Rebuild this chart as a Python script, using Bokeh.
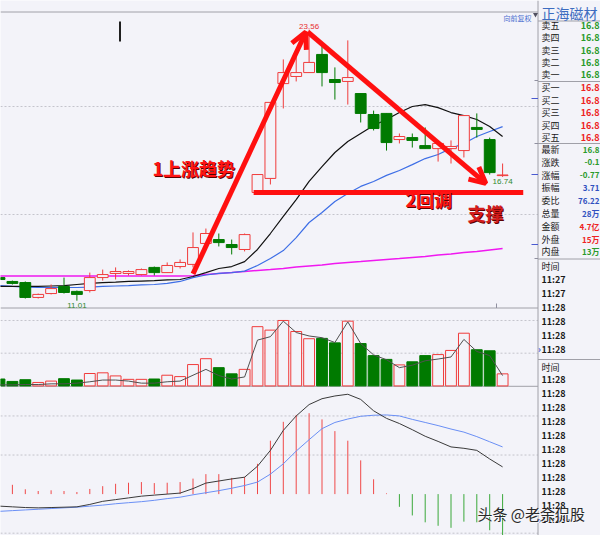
from bokeh.plotting import figure
from bokeh.models import Range1d, Arrow, OpenHead, ColumnDataSource
from bokeh.core.properties import value
from bokeh.embed import file_html
from bokeh.resources import INLINE

# ---------------- data ----------------
opens  = [12.08, 11.90, 11.85, 11.16, 11.34, 11.67, 11.44, 11.48, 12.08, 12.27,
          12.27, 12.22, 12.55, 12.31, 12.59, 12.69, 13.66, 13.84, 13.61, 13.38,
          16.02, 16.67, 21.06, 21.39, 21.57, 22.41, 21.25, 21.16, 20.60, 19.63,
          19.68, 18.47, 18.56, 18.19, 18.05, 18.05, 17.96, 19.03, 18.47, 16.80]
closes = [11.99, 11.81, 11.16, 11.30, 11.57, 11.39, 11.30, 12.08, 12.22, 12.36,
          12.36, 12.45, 12.31, 12.64, 12.78, 13.47, 14.12, 13.70, 13.47, 14.07,
          16.85, 20.19, 21.57, 21.57, 22.04, 21.57, 21.11, 21.34, 19.68, 18.98,
          18.33, 18.61, 18.43, 18.05, 18.29, 18.15, 19.58, 18.94, 16.94, 16.83]
highs  = [12.13, 11.94, 11.90, 11.34, 11.76, 12.08, 11.48, 12.31, 12.45, 12.55,
          12.41, 12.50, 12.59, 12.78, 12.92, 14.17, 14.35, 14.12, 13.84, 14.12,
          16.85, 20.19, 22.18, 22.41, 23.56, 22.82, 21.81, 23.06, 20.60, 19.81,
          19.68, 18.75, 18.75, 19.03, 18.29, 18.43, 19.58, 19.68, 18.56, 17.36]
lows   = [11.94, 11.76, 11.11, 11.11, 11.30, 11.34, 11.01, 11.39, 11.94, 11.99,
          12.18, 12.18, 12.18, 12.31, 12.50, 12.55, 13.61, 13.52, 13.15, 13.29,
          16.02, 16.39, 19.91, 21.16, 21.57, 20.93, 20.32, 20.09, 19.26, 18.89,
          17.96, 18.29, 18.10, 18.05, 17.45, 17.36, 17.64, 18.56, 16.85, 16.74]
ma_black = [11.67, 11.67, 11.67, 11.67, 11.69, 11.71, 11.76, 11.81, 11.85, 11.87,
            11.90, 11.92, 11.94, 11.97, 11.99, 12.13, 12.31, 12.50, 12.59, 12.82,
            13.38, 14.12, 14.91, 15.69, 16.53, 17.22, 17.87, 18.38, 18.75, 19.12,
            19.40, 19.72, 20.00, 20.09, 19.95, 19.72, 19.58, 19.40, 19.07, 18.61]
ma_blue = [11.71, 11.67, 11.64, 11.62, 11.62, 11.62, 11.62, 11.64, 11.67, 11.69,
           11.71, 11.74, 11.76, 11.81, 11.90, 12.08, 12.20, 12.27, 12.31, 12.38,
           12.64, 12.96, 13.33, 13.93, 14.63, 15.09, 15.60, 15.97, 16.30, 16.53,
           16.81, 17.04, 17.31, 17.59, 17.78, 18.06, 18.29, 18.61, 18.84, 19.07]
ma_magenta = [12.15, 12.15, 12.15, 12.15, 12.15, 12.15, 12.15, 12.15, 12.15, 12.15,
              12.15, 12.15, 12.15, 12.15, 12.15, 12.17, 12.22, 12.27, 12.31, 12.36,
              12.41, 12.45, 12.50, 12.57, 12.62, 12.66, 12.73, 12.78, 12.82, 12.87,
              12.92, 12.96, 13.01, 13.06, 13.13, 13.17, 13.24, 13.29, 13.36, 13.43]
volume = [2.0, 1.3, 1.8, 1.0, 1.4, 2.1, 1.7, 3.6, 3.8, 2.9,
          1.9, 1.9, 2.0, 3.1, 2.7, 6.2, 7.9, 5.3, 3.5, 4.8,
          17.2, 16.2, 19.0, 15.8, 13.7, 13.8, 12.5, 18.8, 12.3, 8.8,
          7.7, 6.1, 7.0, 8.8, 9.1, 10.3, 15.3, 10.5, 10.2, 3.5]
vol_ma = [0.3, 0.3, 0.4, 0.4, 0.6, 0.6, 0.8, 1.2, 1.7, 1.7,
          1.4, 0.8, 0.8, 1.2, 1.4, 3.1, 4.8, 3.0, 2.0, 2.6,
          13.3, 14.3, 18.8, 15.5, 14.5, 14.0, 12.6, 18.6, 12.3, 9.0,
          7.6, 5.3, 6.0, 7.3, 7.8, 8.4, 13.5, 10.0, 8.8, 3.0]
macd_hist = [0.264, 0.238, 0.123, 0.079, 0.097, 0.079, 0.053, 0.132, 0.203, 0.264,
             0.291, 0.308, 0.282, 0.291, 0.308, 0.396, 0.511, 0.511, 0.414, 0.441,
             0.775, 1.366, 1.850, 2.026, 2.070, 1.912, 1.612, 1.366, 0.863, 0.379,
             0.018, -0.326, -0.546, -0.722, -0.811, -0.863, -0.705, -0.722, -0.925, -1.057]
dif = [-0.308, -0.326, -0.344, -0.352, -0.344, -0.335, -0.326, -0.264, -0.185, -0.141,
       -0.097, -0.053, -0.026, 0.0, 0.026, 0.141, 0.282, 0.335, 0.388, 0.432,
       0.714, 1.119, 1.630, 2.000, 2.291, 2.441, 2.511, 2.555, 2.423, 2.132,
       1.938, 1.806, 1.648, 1.480, 1.348, 1.207, 1.172, 1.119, 0.899, 0.696]
dea = [-0.441, -0.423, -0.405, -0.388, -0.370, -0.352, -0.335, -0.308, -0.282, -0.247,
       -0.220, -0.194, -0.159, -0.115, -0.079, -0.018, 0.035, 0.088, 0.150, 0.220,
       0.308, 0.511, 0.775, 1.101, 1.392, 1.674, 1.833, 1.921, 1.991, 2.018,
       2.026, 2.000, 1.912, 1.833, 1.753, 1.665, 1.586, 1.471, 1.339, 1.207]

price_grid = [20, 15]
vol_grid = [9.5, 19.0]
macd_grid = [2, 1, -1]

# annotation content
up_arrow = dict(x=[15.0, 23.75], y=[12.25, 23.45])
down_arrow = dict(x=[23.9, 37.7], y=[23.45, 16.44])
support = dict(x=[19.7, 40.6], y=16.02)
notes = [("1上涨趋势", 11.86, 17.13, "#ff1414"),
         ("2回调", 31.47, 15.74, "#ff1414"),
         ("支撑", 36.28, 15.05, "#d41c1c")]

stock_name = "正海磁材"
sell_labels = ["卖五", "卖四", "卖三", "卖二", "卖一"]
sell_prices = ["16.8", "16.8", "16.8", "16.8", "16.8"]
buy_labels = ["买一", "买二", "买三", "买四", "买五"]
buy_prices = ["16.8", "16.8", "16.8", "16.8", "16.8"]
stat_labels = ["最新", "涨跌", "涨幅", "振幅", "委比", "总量", "金额", "外盘", "内盘"]
stat_values = ["16.8", "-0.1", "-0.77", "3.71", "76.22", "28万", "4.7亿", "15万", "13万"]
tick_times_1 = ["11:27", "11:27", "11:28", "11:28", "11:28", "11:28"]
tick_times_2 = ["11:28"] * 11
watermark = "头条 @老余侃股"

# ---------------- layout constants (page pixels) ----------------
BG = "#f3f3f9"
RED = "#f03c3c"
GREEN = "#007a00"
ARROW_RED = "#ff1010"
STEP, X0 = 12.9, -1.0          # candle spacing / page x of index 0
PAGE_L, PAGE_R, PAGE_T, PAGE_B = 0, 600, 0, 535
PY20, PPX = 106.0, 21.6        # page y of price 20, px per 1.0
VY0, VPX = 385.4, 3.4435       # volume baseline, px per unit
MY0, MPX = 493.6, 39.08        # macd zero, px per unit
MAIN_R = 537.5

def px2i(X): return (X - X0) / STEP
def py2p(Y): return 20 - (Y - PY20) / PPX
def py2v(Y): return (VY0 - Y) / VPX
def py2m(Y): return (MY0 - Y) / MPX

p = figure(width=600, height=535, output_backend="svg", toolbar_location=None,
           x_axis_location=None, y_axis_location=None, min_border=0,
           x_range=Range1d(px2i(PAGE_L), px2i(PAGE_R)),
           y_range=Range1d(py2p(PAGE_B), py2p(PAGE_T)))
p.extra_x_ranges = {"page": Range1d(PAGE_L, PAGE_R)}
p.extra_y_ranges = {"pageY": Range1d(PAGE_B, PAGE_T),
                    "vol": Range1d(py2v(PAGE_B), py2v(PAGE_T)),
                    "macd": Range1d(py2m(PAGE_B), py2m(PAGE_T))}
p.xgrid.visible = False
p.ygrid.visible = False
p.background_fill_color = BG
p.border_fill_color = BG
p.outline_line_color = None

idx = list(range(len(opens)))
up = [c >= o for o, c in zip(opens, closes)]
src = ColumnDataSource(dict(
    x=idx, high=highs, low=lows,
    top=[max(o, c) for o, c in zip(opens, closes)],
    bottom=[min(o, c) for o, c in zip(opens, closes)],
    line=[RED if u else GREEN for u in up],
    fill=[BG if u else GREEN for u in up],
    vol=volume,
    mh=macd_hist, zero=[0] * len(idx),
    mcol=["#f04848" if h >= 0 else "#3aa83a" for h in macd_hist],
))

# grid lines
GRID = "#c4c4cc"
p.segment(x0=PAGE_L, x1=MAIN_R, y0=price_grid, y1=price_grid, x_range_name="page",
          line_color=GRID, line_dash="2 2", line_width=1)
p.segment(x0=PAGE_L, x1=MAIN_R, y0=vol_grid, y1=vol_grid, x_range_name="page",
          y_range_name="vol", line_color=GRID, line_dash="2 2", line_width=1)
p.segment(x0=PAGE_L, x1=MAIN_R, y0=macd_grid, y1=macd_grid, x_range_name="page",
          y_range_name="macd", line_color=GRID, line_dash="2 2", line_width=1)

# panel borders
BORDER = "#a0a0a8"
p.segment(x0=PAGE_L, x1=MAIN_R, y0=[11.5, 307.5, 385.8], y1=[11.5, 307.5, 385.8],
          x_range_name="page", y_range_name="pageY", line_color=BORDER, line_width=1)
p.segment(x0=MAIN_R, x1=MAIN_R, y0=PAGE_T, y1=PAGE_B, x_range_name="page",
          y_range_name="pageY", line_color=BORDER, line_width=1)
p.segment(x0=MAIN_R, x1=PAGE_R, y0=[20.5, 81, 143, 258.5, 359], y1=[20.5, 81, 143, 258.5, 359],
          x_range_name="page", y_range_name="pageY", line_color=BORDER, line_width=1)
# right-edge ticks and bottom tick
p.segment(x0=531, x1=MAIN_R, y0=[98, 174, 244], y1=[98, 174, 244], x_range_name="page",
          y_range_name="pageY", line_color="#4a5ad0", line_width=1)
p.segment(x0=534, x1=MAIN_R, y0=[80, 143, 258], y1=[80, 143, 258], x_range_name="page",
          y_range_name="pageY", line_color="#9090a0", line_width=1)
p.segment(x0=496, x1=496, y0=303, y1=307.5, x_range_name="page", y_range_name="pageY",
          line_color="#9090a0", line_width=1)
# cursor mark
p.segment(x0=119.5, x1=119.5, y0=21, y1=41, x_range_name="page", y_range_name="pageY",
          line_color="#202020", line_width=2)

# moving averages
p.line(idx, ma_magenta, line_color="#f018f0", line_width=1.5)
p.line(idx, ma_blue, line_color="#3d6ee6", line_width=1.2)
p.line(idx, ma_black, line_color="#111111", line_width=1.2)

# candles
p.segment(x0="x", y0="low", x1="x", y1="high", line_color="line", line_width=1, source=src)
p.vbar(x="x", width=0.84, top="top", bottom="bottom", fill_color="fill",
       line_color="line", line_width=1, source=src)

# volume
p.vbar(x="x", width=0.84, top="vol", bottom=0, fill_color="fill", line_color="line",
       line_width=1, source=src, y_range_name="vol")
p.line(idx, vol_ma, line_color="#505050", line_width=1, y_range_name="vol")

# macd
p.segment(x0="x", y0="zero", x1="x", y1="mh", line_color="mcol", line_width=1,
          source=src, y_range_name="macd")
p.line(idx, dea, line_color="#6a8ff5", line_width=1, y_range_name="macd")
p.line(idx, dif, line_color="#3a3a3a", line_width=1, y_range_name="macd")

# red drawing: arrows, support line, notes
p.segment(x0=support["x"][0], x1=support["x"][1], y0=support["y"], y1=support["y"],
          line_color=ARROW_RED, line_width=5)
for a in (up_arrow, down_arrow):
    p.add_layout(Arrow(end=OpenHead(size=16, line_color=ARROW_RED, line_width=5),
                       x_start=a["x"][0], y_start=a["y"][0], x_end=a["x"][1], y_end=a["y"][1],
                       line_color=ARROW_RED, line_width=5))
cjk = value("Noto Sans CJK SC")
for t, x, y, c in notes:
    p.text(x=[x], y=[y], text=[t], text_font=cjk, text_font_size="18px", text_font_style="bold",
           text_color="#5a0000", text_align="left", text_baseline="middle", x_offset=1, y_offset=1)
    p.text(x=[x], y=[y], text=[t], text_font=cjk, text_font_size="18px", text_font_style="bold",
           text_color=c, text_align="left", text_baseline="middle")

# extreme labels (drawn above the arrows)
small = value("Liberation Sans")
hi_i = highs.index(max(highs))
lo_i = lows.index(min(lows[30:]))
lo_all = lows.index(min(lows))
p.text(x=[hi_i], y=[highs[hi_i]], text=[f"{highs[hi_i]:.2f}"], text_font=small,
       text_font_size="8px", text_color="#e83030", text_align="center",
       text_baseline="bottom", y_offset=-1, level="overlay")
p.text(x=[lo_i], y=[lows[lo_i]], text=[f"{lows[lo_i]:.2f}"], text_font=small,
       text_font_size="8px", text_color="#2f8a2f", text_align="center",
       text_baseline="top", y_offset=2, level="overlay")
p.text(x=[lo_all], y=[lows[lo_all]], text=[f"{lows[lo_all]:.2f}"], text_font=small,
       text_font_size="8px", text_color="#2f8a2f", text_align="center",
       text_baseline="top", y_offset=2)

# top-right small header
p.text(x=[503], y=[17], text=["向前复权"], text_font=cjk, text_font_size="7px",
       text_color="#4a6fd0", text_baseline="middle", x_range_name="page", y_range_name="pageY")
p.scatter(x=[535], y=[14], marker="inverted_triangle", size=5, fill_color="#505060",
          line_color=None, x_range_name="page", y_range_name="pageY")

# ---------------- right quote panel ----------------
def ptext(xs, ys, texts, color, size="9px", bold=False, font=cjk, align="left"):
    p.text(x=xs, y=ys, text=texts, text_font=font, text_font_size=size,
           text_font_style="bold" if bold else "normal", text_color=color,
           text_baseline="middle", text_align=align, x_range_name="page", y_range_name="pageY")

ptext([541], [12], [stock_name], "#3d6cc0", size="14px")
sy = [25 + 12.25 * k for k in range(5)]
by = [87 + 12.5 * k for k in range(5)]
ty = [149 + 12.8 * k for k in range(9)]
ptext([541] * 5, sy, sell_labels, "#1a1a1a")
ptext([599] * 5, sy, sell_prices, "#2a9a2a", bold=True, align="right")
ptext([541] * 5, by, buy_labels, "#1a1a1a")
ptext([599] * 5, by, buy_prices, "#ee2222", bold=True, align="right")
ptext([541] * 9, ty, stat_labels, "#1a1a1a")
stat_c = ["#2a9a2a", "#2a9a2a", "#2a9a2a", "#3050c0", "#3050c0", "#3050c0", "#ee2222", "#ee2222", "#2a9a2a"]
for y, t, c in zip(ty, stat_values, stat_c):
    ptext([599], [y], [t], c, size="8px", bold=True, align="right")
ptext([541], [266], ["时间"], "#1a1a1a")
ptext([541] * 6, [279 + 14 * k for k in range(6)], tick_times_1, "#1a1a1a", bold=True)
ptext([541], [367], ["时间"], "#1a1a1a")
ptext([541] * 11, [379 + 14 * k for k in range(11)], tick_times_2, "#1a1a1a", bold=True)
ptext([537.5, 537.5], [349, 520], ["›", "›"], "#3a5ad0", bold=True)

# watermark
p.text(x=[477], y=[513], text=[watermark], text_font=cjk, text_font_size="15px",
       text_color="#f8f8f8", text_baseline="middle", x_range_name="page", y_range_name="pageY",
       x_offset=1, y_offset=1)
p.text(x=[477], y=[513], text=[watermark], text_font=cjk, text_font_size="15px",
       text_color="#2a2a2a", text_baseline="middle", x_range_name="page", y_range_name="pageY")

open("out.html", "w").write(file_html(p, INLINE))
